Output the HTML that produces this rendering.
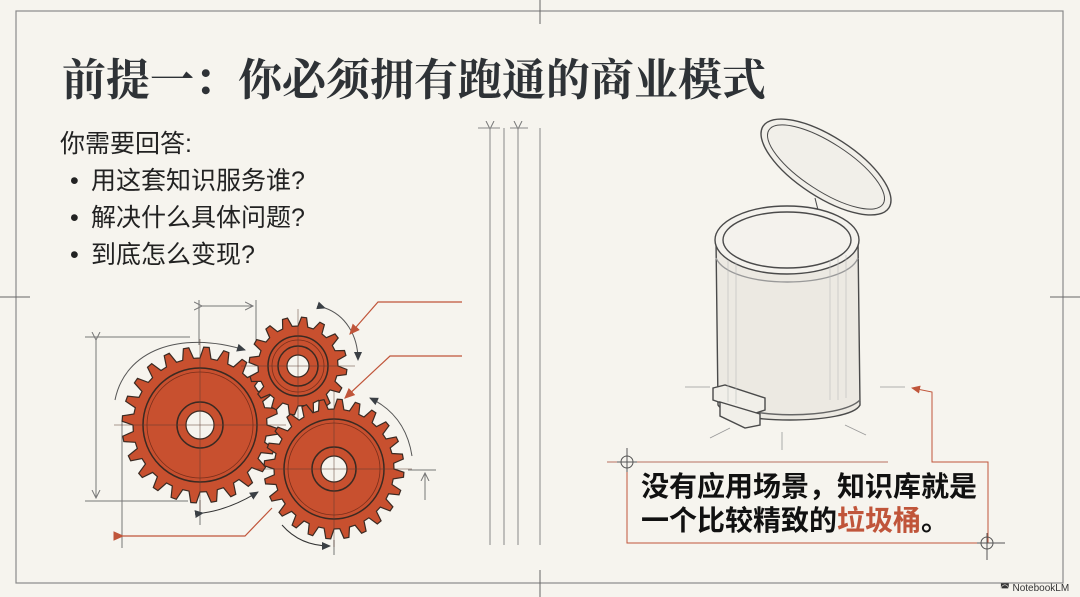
<!DOCTYPE html>
<html><head><meta charset="utf-8">
<style>
html,body{margin:0;padding:0;background:#f6f4ee;}
#c{position:relative;width:1080px;height:597px;overflow:hidden;background:#f6f4ee;font-family:"Liberation Sans","Noto Sans CJK SC",sans-serif;}
.t{position:absolute;white-space:nowrap;}
</style></head><body>
<div id="c">
<svg width="1080" height="597" style="position:absolute;left:0;top:0">
<defs>
<marker id="ag" markerWidth="10" markerHeight="10" refX="8" refY="5" orient="auto"><path d="M0,1 L9,5 L0,9 Z" fill="#3a3f44"/></marker>
<marker id="ar" markerWidth="10" markerHeight="10" refX="8" refY="5" orient="auto"><path d="M0,1 L9,5 L0,9 Z" fill="#c0553a"/></marker>
<marker id="ao" markerWidth="10" markerHeight="10" refX="8" refY="5" orient="auto"><path d="M0,1 L8,5 L0,9" fill="none" stroke="#777" stroke-width="1"/></marker>
</defs>
<rect x="16" y="11" width="1047" height="572" fill="none" stroke="#8a8a8a" stroke-width="1.2"/>
<g stroke="#666" stroke-width="1">
<line x1="540" y1="0" x2="540" y2="24"/><line x1="0" y1="297" x2="30" y2="297"/>
<line x1="1050" y1="297" x2="1080" y2="297"/><line x1="540" y1="570" x2="540" y2="597"/>
</g>
<g stroke="#888" stroke-width="1" fill="none">
<line x1="490" y1="129" x2="490" y2="545" marker-start="url(#ao)"/>
<line x1="504" y1="128" x2="504" y2="545"/>
<line x1="518" y1="129" x2="518" y2="545" marker-start="url(#ao)"/>
<line x1="540" y1="128" x2="540" y2="545"/>
<line x1="478" y1="128" x2="500" y2="128"/><line x1="510" y1="128" x2="528" y2="128"/>
</g>
<g stroke="#777" stroke-width="1" fill="none">
<line x1="85" y1="337" x2="190" y2="337"/><line x1="85" y1="501" x2="188" y2="501"/>
<line x1="96" y1="340" x2="96" y2="498" marker-start="url(#ao)" marker-end="url(#ao)"/>
<line x1="199" y1="300" x2="199" y2="345"/><line x1="256" y1="300" x2="256" y2="345"/>
<line x1="202" y1="306" x2="253" y2="306" marker-start="url(#ao)" marker-end="url(#ao)"/>
<line x1="122" y1="420" x2="122" y2="548"/>
<line x1="408" y1="470" x2="436" y2="470"/><line x1="425" y1="500" x2="425" y2="473" marker-end="url(#ao)"/>
<line x1="200" y1="500" x2="200" y2="525"/><line x1="334" y1="540" x2="334" y2="555"/>
<path d="M115,400 C125,350 180,330 245,350" stroke="#555" marker-end="url(#ag)"/>
<path d="M325,308 C345,315 358,335 358,360" stroke="#555" marker-start="url(#ag)" marker-end="url(#ag)"/>
<path d="M412,456 C408,430 395,410 370,398" stroke="#555" marker-end="url(#ag)"/>
<path d="M203,513 C225,510 245,500 258,492" stroke="#333" marker-start="url(#ag)" marker-end="url(#ag)"/>
<path d="M282,525 C295,540 312,546 330,546" stroke="#333" marker-end="url(#ag)"/>
</g>
<g stroke="#c0553a" stroke-width="1.2" fill="none">
<polyline points="462,302 378,302 350,334" marker-end="url(#ar)"/>
<polyline points="462,356 390,356 345,398" marker-end="url(#ar)"/>
<polyline points="123,536 245,536 272,508" marker-start="url(#ar)"/>
</g>
<g id="gears"></g>
<!-- trash can -->
<g stroke="#4a4a4a" fill="none" stroke-width="1.4">
<ellipse cx="826" cy="167" rx="75" ry="30" transform="rotate(33 826 167)" fill="#f1efe9"/>
<ellipse cx="826" cy="167" rx="68" ry="24" transform="rotate(33 826 167)" stroke-width="1"/>
<line x1="815" y1="198" x2="818" y2="210" stroke-width="1"/>
<path d="M716,240 L718,405 C730,425 850,425 860,405 L858,240" fill="#ece9e2"/>
<ellipse cx="787" cy="240" rx="72" ry="34" fill="#f4f2ed"/>
<ellipse cx="787" cy="240" rx="64" ry="28"/>
<path d="M716,258 C730,290 845,290 858,258" stroke="#999"/>
<path d="M718,398 C740,420 840,420 860,400" stroke="#666"/>
<polygon points="713,388 725,385 765,398 765,410 753,414 713,400" fill="#f1efe9"/>
<polygon points="720,402 760,414 760,425 745,428 720,416" fill="#f1efe9"/>
</g>
<g stroke="#999" stroke-width="0.8">
<line x1="685" y1="387" x2="710" y2="387"/><line x1="880" y1="387" x2="905" y2="387"/>
<line x1="710" y1="438" x2="730" y2="428"/><line x1="782" y1="432" x2="782" y2="450"/><line x1="845" y1="425" x2="866" y2="435"/>
</g>
<g stroke="#bbb" stroke-width="0.6">
<line x1="830" y1="260" x2="830" y2="400"/><line x1="838" y1="258" x2="838" y2="400"/><line x1="846" y1="255" x2="846" y2="398"/><line x1="728" y1="260" x2="728" y2="402"/><line x1="736" y1="262" x2="736" y2="404"/>
</g>
<g fill="none" stroke-width="1">
<line x1="607" y1="462" x2="888" y2="462" stroke="#b87060"/>
<polyline points="627,462 627,543 988,543 988,462 932,462 932,392 912,388" stroke="#c0553a" marker-end="url(#ar)"/>
<g stroke="#555"><circle cx="627" cy="462" r="6"/><line x1="617" y1="462" x2="637" y2="462"/><line x1="627" y1="448" x2="627" y2="472"/>
<circle cx="987" cy="543" r="6"/><line x1="977" y1="543" x2="1005" y2="543"/><line x1="987" y1="533" x2="987" y2="560"/></g>
</g>
</svg>
<div class="t" style="left:62px;top:44px;font-family:'Liberation Serif','Noto Serif CJK SC',serif;font-weight:bold;font-size:44px;color:#2e3236;">前提一：你必须拥有跑通的商业模式</div>
<div class="t" style="left:60px;top:126px;font-size:25px;color:#222;line-height:37px;">你需要回答:</div>
<div class="t" style="left:70px;top:163px;font-size:25px;color:#222;line-height:37px;"><span style="display:inline-block;width:21px">•</span>用这套知识服务谁?<br><span style="display:inline-block;width:21px">•</span>解决什么具体问题?<br><span style="display:inline-block;width:21px">•</span>到底怎么变现?</div>
<div class="t" style="left:641px;top:470px;font-size:28px;font-weight:bold;color:#111;line-height:34px;">没有应用场景，知识库就是<br>一个比较精致的<span style="color:#c0553a">垃圾桶</span>。</div>
<div class="t" style="left:1000px;top:583px;font-size:10px;color:#333;">◚ NotebookLM</div>
</div>
<script>
function gear(cx,cy,ro,ri,n,hole,ring){
 let d="";const s=2*Math.PI/n;
 for(let i=0;i<n;i++){const a=i*s;
  const pts=[[ri,a],[ro,a+s*0.18],[ro,a+s*0.45],[ri,a+s*0.63]];
  pts.forEach((p,j)=>{const x=cx+p[0]*Math.cos(p[1]),y=cy+p[0]*Math.sin(p[1]);d+=(i==0&&j==0?"M":"L")+x.toFixed(1)+","+y.toFixed(1);});}
 d+="Z";
 return `<path d="${d}" fill="#c8502f" stroke="#3a2a22" stroke-width="1.2"/>
 <circle cx="${cx}" cy="${cy}" r="${ring}" fill="none" stroke="#3a2a22" stroke-width="1.5"/>
 <circle cx="${cx}" cy="${cy}" r="${ring-4}" fill="none" stroke="#7a2e1a" stroke-width="0.8"/>
 <circle cx="${cx}" cy="${cy}" r="${hole+9}" fill="none" stroke="#3a2a22" stroke-width="1.5"/>
 <circle cx="${cx}" cy="${cy}" r="${hole}" fill="#f6f4ee" stroke="#3a2a22" stroke-width="1.2"/>
 <line x1="${cx-ro-8}" y1="${cy}" x2="${cx+ro+8}" y2="${cy}" stroke="#5a3a30" stroke-width="0.5"/>
 <line x1="${cx}" y1="${cy-ro-8}" x2="${cx}" y2="${cy+ro+8}" stroke="#5a3a30" stroke-width="0.5"/>`;
}
document.getElementById("gears").innerHTML=
 gear(200,425,78,67,24,14,57)+gear(298,366,49,40,16,11,30)+gear(334,469,70,60,24,13,50);
</script>
</body></html>
